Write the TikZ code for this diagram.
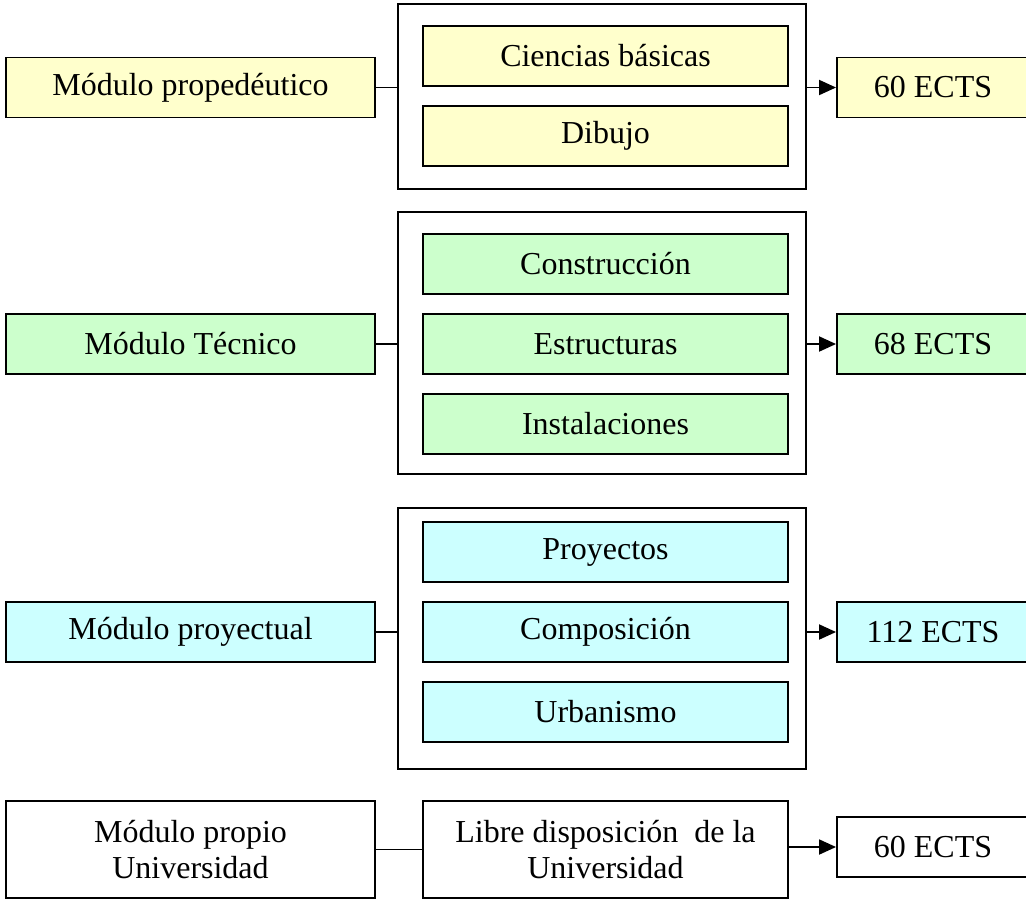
\documentclass[tikz,border=0pt]{standalone}
\usepackage{fontspec}
\setmainfont{Liberation Serif}
\usepackage{tikz}
\usetikzlibrary{arrows.meta}

\definecolor{amarillo}{HTML}{FFFFCC}
\definecolor{verde}{HTML}{CCFFCC}
\definecolor{celeste}{HTML}{CCFFFF}

\begin{document}
\begin{tikzpicture}[line width=1.1pt,
  caja/.style = {draw, rectangle, inner sep=0pt, align=center, font=\fontsize{18.2}{21}\selectfont},
  modulo/.style = {caja, minimum width=7.38cm, minimum height=1.2cm},
  materia/.style = {caja, minimum width=7.3cm, minimum height=1.2cm},
  creditos/.style = {caja, minimum width=3.84cm, minimum height=1.2cm},
  grupo/.style = {draw, rectangle, minimum width=8.16cm, inner sep=0pt},
  flecha/.style = {-{Triangle[length=3.4mm, width=3mm]}}]
\useasboundingbox (0,0) rectangle (20.52,-18);

% modulo propedeutico
\node[modulo, fill=amarillo] (mod1) at (3.81,-1.75) {Módulo propedéutico};
\node[grupo, minimum height=3.7cm] (grp1) at (12.04,-1.93) {};
\node[materia, fill=amarillo] (cie) at (12.11,-1.12) {Ciencias básicas};
\node[materia, fill=amarillo] (dib) at (12.11,-2.72) {Dibujo};
\node[creditos, fill=amarillo] (ects1) at (18.66,-1.75) {60 ECTS};
\draw (mod1.east) -- (grp1.west |- mod1.east);
\draw[flecha] (grp1.east |- ects1.west) -- (ects1.west);

% modulo tecnico
\node[modulo, fill=verde] (mod2) at (3.81,-6.88) {Módulo Técnico};
\node[grupo, minimum height=5.24cm] (grp2) at (12.04,-6.86) {};
\node[materia, fill=verde] (con) at (12.11,-5.28) {Construcción};
\node[materia, fill=verde] (est) at (12.11,-6.88) {Estructuras};
\node[materia, fill=verde] (ins) at (12.11,-8.48) {Instalaciones};
\node[creditos, fill=verde] (ects2) at (18.66,-6.88) {68 ECTS};
\draw (mod2.east) -- (grp2.west |- mod2.east);
\draw[flecha] (grp2.east |- ects2.west) -- (ects2.west);

% modulo proyectual
\node[modulo, fill=celeste] (mod3) at (3.81,-12.64) {Módulo proyectual};
\node[grupo, minimum height=5.22cm] (grp3) at (12.04,-12.77) {};
\node[materia, fill=celeste] (pro) at (12.11,-11.04) {Proyectos};
\node[materia, fill=celeste] (com) at (12.11,-12.64) {Composición};
\node[materia, fill=celeste] (urb) at (12.11,-14.24) {Urbanismo};
\node[creditos, fill=celeste] (ects3) at (18.66,-12.64) {112 ECTS};
\draw (mod3.east) -- (grp3.west |- mod3.east);
\draw[flecha] (grp3.east |- ects3.west) -- (ects3.west);

% modulo propio
\node[modulo, minimum height=1.94cm] (mod4) at (3.81,-16.99) {Módulo propio\\Universidad};
\node[materia, minimum height=1.94cm] (lib) at (12.11,-16.99) {Libre disposición~ de la\\Universidad};
\node[creditos] (ects4) at (18.66,-16.94) {60 ECTS};
\draw (mod4.east) -- (lib.west);
\draw[flecha] (lib.east |- ects4.west) -- (ects4.west);

\end{tikzpicture}
\end{document}
